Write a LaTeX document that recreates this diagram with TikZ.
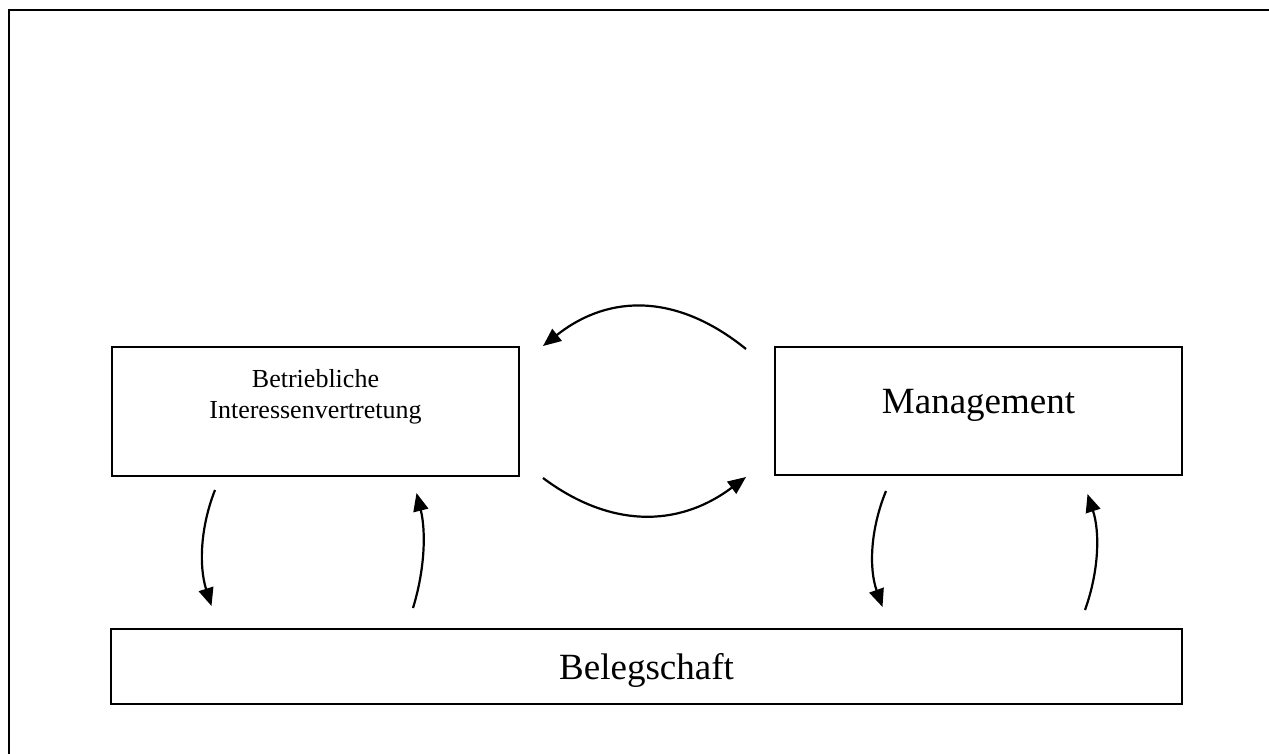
\documentclass[tikz,border=0pt]{standalone}
\usepackage{fontspec}
\setmainfont{Liberation Serif}
\usetikzlibrary{arrows.meta}
\begin{document}
\begin{tikzpicture}[x=1pt,y=-1pt,
  box/.style={draw, line width=2.6pt, inner sep=0pt},
  arr/.style={line width=2.2pt, -{Triangle[length=18pt,width=15pt]}},
  small/.style={font=\fontsize{26}{30}\selectfont, anchor=base, inner sep=0pt},
  big/.style={font=\fontsize{37}{42}\selectfont, anchor=base, inner sep=0pt}]
\useasboundingbox (0,0) rectangle (1269,753);
% outer frame (runs off the right and bottom edges)
\draw[line width=2.6pt] (9,760) -- (9,10) -- (1275,10);
% boxes
\node[box, minimum width=407pt, minimum height=129pt] (bi) at (315.5,411.5) {};
\node[box, minimum width=407pt, minimum height=128pt] (mg) at (978.5,411) {};
\node[box, minimum width=1071pt, minimum height=75pt] (bs) at (646.5,666.5) {};
% texts
\node[small] (bit1) at (315.5,387) {Betriebliche};
\node[small] (bit2) at (315.5,418) {Interessenvertretung};
\node[big] (mgt) at (978.5,413) {Management};
\node[big] (bst) at (646.5,679) {Belegschaft};
% connector end points
\coordinate (a1) at (746,349);  \coordinate (a2) at (543,346);
\coordinate (b1) at (543,478);  \coordinate (b2) at (746,477);
\coordinate (c1) at (215,490);  \coordinate (c2) at (211.5,606);
\coordinate (d1) at (413,608);  \coordinate (d2) at (416.5,493);
\coordinate (e1) at (886,491);  \coordinate (e2) at (882.5,607);
\coordinate (f1) at (1085,610); \coordinate (f2) at (1087.5,494);
% connectors
\draw[arr] (a1) .. controls (678,294) and (610,293) .. (a2);
\draw[arr] (b1) .. controls (610,528) and (678,528) .. (b2);
\draw[arr] (c1) .. controls (200,528) and (199,567) .. (c2);
\draw[arr] (d1) .. controls (425,569) and (426,531) .. (d2);
\draw[arr] (e1) .. controls (870,530) and (869,569) .. (e2);
\draw[arr] (f1) .. controls (1099,571) and (1100,532) .. (f2);
\end{tikzpicture}
\end{document}
